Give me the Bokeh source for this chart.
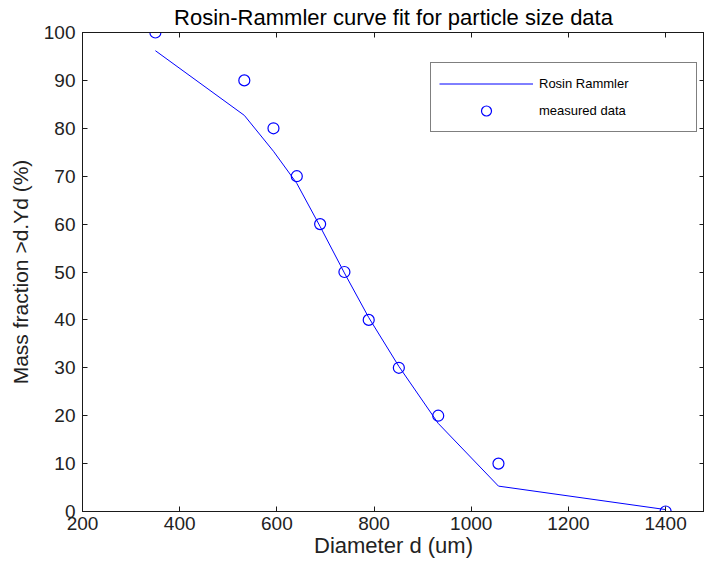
from bokeh.plotting import figure
from bokeh.models import LinearAxis, Legend, LegendItem, FixedTicker, Range1d
from bokeh.embed import file_html
from bokeh.resources import INLINE

# Data
diameter = [350, 533, 593, 641, 689, 739, 789, 851, 932, 1056, 1400]
measured = [100, 90, 80, 70, 60, 50, 40, 30, 20, 10, 0]
rosin_rammler = [96.2, 82.7, 75.2, 68.5, 59.5, 49.8, 40.5, 30.3, 18.4, 5.3, 0.4]

x_ticks = [200, 400, 600, 800, 1000, 1200, 1400]
y_ticks = [0, 10, 20, 30, 40, 50, 60, 70, 80, 90, 100]

FONT = "Liberation Sans"
AX = "#1a1a1a"

p = figure(width=704, height=560, output_backend="svg", toolbar_location=None,
           x_range=Range1d(200, 1480), y_range=Range1d(0, 100),
           min_border_left=82, min_border_right=0, min_border_top=31, min_border_bottom=40,
           title="Rosin-Rammler curve fit for particle size data")

p.title.align = "center"
p.title.text_font = FONT
p.title.text_font_size = "22px"
p.title.text_font_style = "normal"
p.title.text_color = "#000000"
p.title.standoff = 5

p.background_fill_color = "white"
p.border_fill_color = "white"
p.outline_line_color = AX
p.outline_line_width = 1
p.xgrid.visible = False
p.ygrid.visible = False

def style_axis(ax, ticks, show_labels=True):
    ax.ticker = FixedTicker(ticks=ticks)
    ax.axis_line_color = AX
    ax.major_tick_line_color = AX
    ax.major_tick_in = 5
    ax.major_tick_out = 0
    ax.minor_tick_line_color = None
    if show_labels:
        ax.major_label_text_font = FONT
        ax.major_label_text_font_size = "19px"
        ax.major_label_text_color = "#222222"
        ax.major_label_standoff = 5
        ax.axis_label_text_font = FONT
        ax.axis_label_text_font_style = "normal"
        ax.axis_label_text_color = "#222222"
    else:
        ax.major_label_overrides = {t: "" for t in ticks}
        ax.major_label_text_font_size = "1px"
        ax.major_label_standoff = 0

style_axis(p.xaxis[0], x_ticks)
style_axis(p.yaxis[0], y_ticks)
p.xaxis[0].axis_label = "Diameter d (um)"
p.xaxis[0].axis_label_text_font_size = "22px"
p.xaxis[0].axis_label_standoff = 0
p.yaxis[0].axis_label = "Mass fraction >d.Yd (%)"
p.yaxis[0].axis_label_text_font_size = "21px"
p.yaxis[0].axis_label_standoff = 9
p.yaxis[0].major_label_standoff = 7

top = LinearAxis()
style_axis(top, x_ticks, show_labels=False)
p.add_layout(top, "above")
right = LinearAxis()
style_axis(right, y_ticks, show_labels=False)
p.add_layout(right, "right")

line_r = p.line(diameter, rosin_rammler, line_color="#0000ff", line_width=1)
pts_r = p.scatter(diameter, measured, marker="circle", size=11, fill_color=None,
                  line_color="#0000ff", line_width=1.2)

legend = Legend(items=[LegendItem(label="Rosin Rammler", renderers=[line_r]),
                       LegendItem(label="measured data", renderers=[pts_r])],
                location=(348, 379), orientation="vertical")
legend.border_line_color = "#000000"
legend.border_line_width = 1
legend.background_fill_color = "white"
legend.background_fill_alpha = 1
legend.label_text_font = FONT
legend.label_text_font_size = "13px"
legend.label_text_color = "#000000"
legend.glyph_width = 94
legend.glyph_height = 25
legend.label_height = 25
legend.spacing = 2
legend.padding = 8
legend.label_standoff = 6
legend.label_width = 149
legend.margin = 0
p.add_layout(legend)

open("out.html", "w").write(file_html(p, INLINE))
